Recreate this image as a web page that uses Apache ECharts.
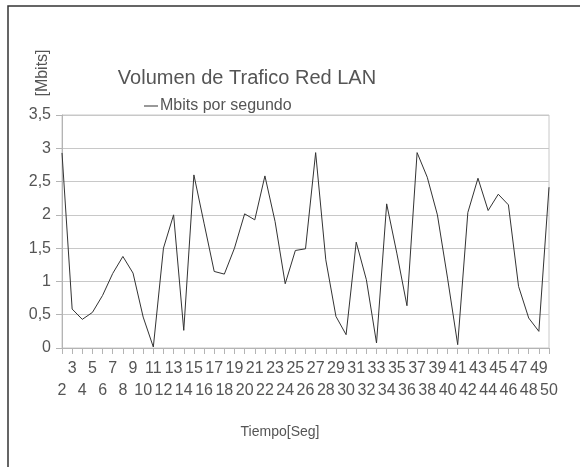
<!DOCTYPE html>
<html>
<head>
<meta charset="utf-8">
<script src="https://cdn.jsdelivr.net/npm/echarts@6/dist/echarts.min.js"></script>
<style>
  html, body { margin: 0; padding: 0; background: #fff; }
  #chart { width: 580px; height: 467px; }
</style>
</head>
<body>
<div id="chart"></div>
<script>
// segundos 2..50
var segundos = [];
for (var s = 2; s <= 50; s++) segundos.push(String(s));

var mbits = [
  2.93, 0.585, 0.43, 0.535, 0.79, 1.12, 1.375, 1.125, 0.465, 0.015,
  1.5, 2.0, 0.265, 2.6, 1.875, 1.15, 1.11, 1.5, 2.015, 1.925,
  2.585, 1.9, 0.965, 1.465, 1.49, 2.935, 1.325, 0.475, 0.2, 1.59,
  1.025, 0.075, 2.165, 1.425, 0.635, 2.935, 2.565, 2.0, 1.05, 0.05,
  2.035, 2.55, 2.065, 2.31, 2.15, 0.925, 0.45, 0.25, 2.415
];

var yTicks = [0, 0.5, 1, 1.5, 2, 2.5, 3, 3.5];

var chart = echarts.init(document.getElementById('chart'));
var fuente = 'Liberation Sans, Arial, sans-serif';

var option = {
  backgroundColor: '#fff',
  animation: false,
  textStyle: { fontFamily: fuente },
  title: {
    text: 'Volumen de Trafico Red LAN',
    left: 242,
    top: 63,
    textAlign: 'center',
    textStyle: { fontSize: 20, fontWeight: 'normal', color: '#555', fontFamily: fuente }
  },
  legend: {
    data: ['Mbits por segundo'],
    left: 139,
    top: 93,
    itemWidth: 14,
    itemHeight: 1,
    itemGap: 0,
    icon: 'rect',
    textStyle: { fontSize: 16, color: '#555', fontFamily: fuente, padding: [0, 0, 0, -3] }
  },
  grid: {
    left: 62, top: 115, right: 31, bottom: 119,
    show: true, borderColor: '#c8c8c8', borderWidth: 1
  },
  graphic: [
    {
      type: 'rect',
      shape: { x: 8, y: 6, width: 600, height: 500 },
      style: { fill: 'none', stroke: '#333', lineWidth: 1.5 }
    },
    {
      type: 'text',
      x: 43, y: 73,
      rotation: Math.PI / 2,
      style: { text: '[Mbits]', fill: '#555', fontSize: 16, fontFamily: fuente, align: 'center', verticalAlign: 'middle' }
    },
    {
      type: 'text',
      x: 280, y: 432,
      style: { text: 'Tiempo[Seg]', fill: '#555', fontSize: 14, fontFamily: fuente, align: 'center', verticalAlign: 'middle' }
    }
  ],
  xAxis: {
    type: 'category',
    data: segundos,
    boundaryGap: false,
    axisLine: { lineStyle: { color: '#b4b4b4' } },
    axisTick: { show: true, interval: 0, length: 6, lineStyle: { color: '#b4b4b4' } },
    axisLabel: {
      interval: 0,
      margin: 10,
      fontSize: 16,
      color: '#555',
      lineHeight: 22,
      formatter: function (v, i) { return i % 2 === 0 ? '\n' + v : v; }
    },
    splitLine: { show: false }
  },
  yAxis: {
    type: 'value',
    min: yTicks[0],
    max: yTicks[yTicks.length - 1],
    interval: 0.5,
    axisLine: { show: true, lineStyle: { color: '#b4b4b4' } },
    axisTick: { show: true, length: 6, lineStyle: { color: '#b4b4b4' } },
    axisLabel: {
      fontSize: 16,
      color: '#555',
      margin: 11,
      formatter: function (v) { return String(v).replace('.', ','); }
    },
    splitLine: { lineStyle: { color: '#c8c8c8', width: 1 } }
  },
  series: [{
    name: 'Mbits por segundo',
    type: 'line',
    data: mbits,
    showSymbol: false,
    symbol: 'none',
    itemStyle: { color: '#333' },
    lineStyle: { color: '#333', width: 1 }
  }]
};

chart.setOption(option);
window.addEventListener('resize', chart.resize);
</script>
</body>
</html>
